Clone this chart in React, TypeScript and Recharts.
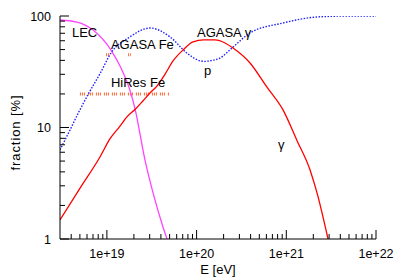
import React from 'react';
import { LineChart, Line, XAxis, YAxis, ReferenceDot } from 'recharts';

// ---- data ----
// gamma fraction (red, solid)
const gammaE = [3e18, 5e18, 8.4e18, 1.08e19, 1.4e19, 1.68e19, 2.07e19, 2.5e19, 3.02e19, 3.61e19, 4.44e19, 5.46e19, 7.05e19, 9.12e19, 1.2e20, 1.6e20, 2.1e20, 2.55e20, 3.94e20, 6.09e20, 9.19e20, 1.31e21, 1.84e21, 2.2e21, 2.92e21];
const gammaF = [1.48, 2.85, 5.47, 7.9, 10.3, 12.5, 14.6, 17.2, 20.4, 23.5, 30, 39.5, 49.5, 58.5, 61, 61, 57, 51.6, 37.9, 23, 14.4, 7.7, 4.16, 2.59, 1.0];

// proton fraction (blue, dotted)
const protonE = [3e18, 3.88e18, 5e18, 6.3e18, 8.4e18, 1.11e19, 1.81e19, 3.02e19, 5.05e19, 7.81e19, 1.09e20, 1.24e20, 1.41e20, 1.82e20, 2.55e20, 3.94e20, 9.19e20, 2.2e21, 5.13e21, 1e22];
const protonF = [6.3, 9.5, 14.4, 20.4, 30.5, 46.5, 65, 78, 65, 46.5, 39.7, 39.2, 39.7, 42, 52.7, 70.5, 86.5, 98, 100, 100];

// LEC (magenta)
const lecE = [3e18, 4.64e18, 7.0e18, 1.11e19, 1.4e19, 1.86e19, 2.07e19, 2.66e19, 3.27e19, 4.22e19, 4.68e19];
const lecF = [92.1, 88.3, 74.8, 49.5, 35.6, 20.0, 14.4, 5.1, 2.59, 1.28, 1.0];

// AGASA Fe limit (orange)
const agasaFeE = [9.8e18, 1.85e19];
const agasaFeF = [45, 45];

// HiRes Fe limit (orange)
const hiresFeE = [5e18, 5e19];
const hiresFeF = [20, 20];

// ticks
const xMajorTicks = [1e19, 1e20, 1e21, 1e22];
const xMajorLabels = ['1e+19', '1e+20', '1e+21', '1e+22'];
const xMinorTicks = [
  4e18, 5e18, 6e18, 7e18, 8e18, 9e18,
  2e19, 3e19, 4e19, 5e19, 6e19, 7e19, 8e19, 9e19,
  2e20, 3e20, 4e20, 5e20, 6e20, 7e20, 8e20, 9e20,
  2e21, 3e21, 4e21, 5e21, 6e21, 7e21, 8e21, 9e21,
];
const yMajorTicks = [1, 10, 100];
const yMajorLabels = ['1', '10', '100'];
const yMinorTicks = [2, 3, 4, 5, 6, 7, 8, 9, 20, 30, 40, 50, 60, 70, 80, 90];

// in-plot annotations
const noteText = ['LEC', 'AGASA Fe', 'HiRes Fe', 'AGASA \u03b3', 'p', '\u03b3'];
const noteE = [4.08e18, 1.11e19, 1.11e19, 1.01e20, 1.21e20, 8.07e20];
const noteF = [64.9, 50.6, 23.1, 64.9, 29.6, 6.4];

const toPoints = (E: number[], F: number[]) => E.map((e, i) => ({ E: e, f: F[i] }));

const xAllTicks = [...xMinorTicks, ...xMajorTicks].sort((a, b) => a - b);
const yAllTicks = [...yMinorTicks, ...yMajorTicks].sort((a, b) => a - b);

const FONT = '"Liberation Sans", Arial, Helvetica, sans-serif';
const MAJ = 9;
const MIN = 5;

const BottomTick = (props: any) => {
  const { x, y, payload } = props;
  const idx = xMajorTicks.indexOf(payload.value);
  const major = idx >= 0;
  return (
    <g>
      <line x1={x} x2={x} y1={y} y2={y - (major ? MAJ : MIN)} stroke="#000" strokeWidth={1} />
      {major && (
        <text x={x} y={y + 19} textAnchor="middle" fontFamily={FONT} fontSize={12.5} fill="#000">
          {xMajorLabels[idx]}
        </text>
      )}
    </g>
  );
};

const TopTick = (props: any) => {
  const { x, y, payload } = props;
  const major = xMajorTicks.indexOf(payload.value) >= 0;
  return <line x1={x} x2={x} y1={y} y2={y + (major ? MAJ : MIN)} stroke="#000" strokeWidth={1} />;
};

const LeftTick = (props: any) => {
  const { x, y, payload } = props;
  const idx = yMajorTicks.indexOf(payload.value);
  const major = idx >= 0;
  return (
    <g>
      <line x1={x} x2={x + (major ? MAJ : MIN)} y1={y} y2={y} stroke="#000" strokeWidth={1} />
      {major && (
        <text x={x - 9} y={y + 4.5} textAnchor="end" fontFamily={FONT} fontSize={12.5} fill="#000">
          {yMajorLabels[idx]}
        </text>
      )}
    </g>
  );
};

const RightTick = (props: any) => {
  const { x, y, payload } = props;
  const major = yMajorTicks.indexOf(payload.value) >= 0;
  return <line x1={x} x2={x - (major ? MAJ : MIN)} y1={y} y2={y} stroke="#000" strokeWidth={1} />;
};

const XLabel = (props: any) => {
  const vb = props.viewBox || {};
  const cx = vb.x + vb.width / 2;
  return (
    <text x={cx} y={vb.y + 35} textAnchor="middle" fontFamily={FONT} fontSize={13} fill="#000">
      E [eV]
    </text>
  );
};

const YLabel = (props: any) => {
  const vb = props.viewBox || {};
  const cx = 15;
  const cy = vb.y + vb.height / 2 + 5;
  return (
    <text
      x={cx}
      y={cy}
      transform={`rotate(-90 ${cx} ${cy})`}
      textAnchor="middle"
      dominantBaseline="central"
      fontFamily={FONT}
      fontSize={13}
      letterSpacing={0.9}
      fill="#000"
    >
      fraction [%]
    </text>
  );
};

const axisCommon = {
  type: 'number' as const,
  scale: 'log' as const,
  allowDataOverflow: true,
  interval: 0 as const,
  tickSize: 0,
  tickMargin: 0,
  tickLine: false,
  axisLine: { stroke: '#000', strokeWidth: 1 },
};

export default function App() {
  return (
    <div style={{ position: 'absolute', left: 0, top: 0, width: 399, height: 279, background: '#fff' }}>
      <LineChart width={399} height={279} margin={{ top: 16, right: 23, bottom: 0, left: 0 }}>
        <XAxis
          {...axisCommon}
          xAxisId="top"
          orientation="top"
          dataKey="E"
          domain={[3e18, 1e22]}
          ticks={xAllTicks}
          height={0}
          tick={TopTick}
        />
        <XAxis
          {...axisCommon}
          xAxisId="main"
          orientation="bottom"
          dataKey="E"
          domain={[3e18, 1e22]}
          ticks={xAllTicks}
          height={40}
          tick={BottomTick}
          label={<XLabel />}
        />
        <YAxis
          {...axisCommon}
          yAxisId="main"
          orientation="left"
          domain={[1, 100]}
          ticks={yAllTicks}
          width={60}
          tick={LeftTick}
          label={<YLabel />}
        />
        <YAxis
          {...axisCommon}
          yAxisId="right"
          orientation="right"
          domain={[1, 100]}
          ticks={yAllTicks}
          width={0}
          tick={RightTick}
        />
        <Line
          xAxisId="main"
          yAxisId="main"
          data={toPoints(hiresFeE, hiresFeF)}
          dataKey="f"
          type="linear"
          stroke="#ff6633"
          strokeWidth={3}
          strokeDasharray="1 1 1 1 1 3"
          dot={false}
          isAnimationActive={false}
        />
        <Line
          xAxisId="main"
          yAxisId="main"
          data={toPoints(agasaFeE, agasaFeF)}
          dataKey="f"
          type="linear"
          stroke="#ff6633"
          strokeWidth={3}
          strokeDasharray="1 1 1 19 1 1 1 30"
          dot={false}
          isAnimationActive={false}
        />
        <Line
          xAxisId="main"
          yAxisId="main"
          data={toPoints(lecE, lecF)}
          dataKey="f"
          type="monotone"
          stroke="#ff44ff"
          strokeWidth={1.3}
          dot={false}
          isAnimationActive={false}
        />
        <Line
          xAxisId="main"
          yAxisId="main"
          data={toPoints(protonE, protonF)}
          dataKey="f"
          type="monotone"
          stroke="#2020ff"
          strokeWidth={1.4}
          strokeDasharray="1.5 1.5"
          dot={false}
          isAnimationActive={false}
        />
        <Line
          xAxisId="main"
          yAxisId="main"
          data={toPoints(gammaE, gammaF)}
          dataKey="f"
          type="monotone"
          stroke="#ff0000"
          strokeWidth={1.3}
          dot={false}
          isAnimationActive={false}
        />
        {noteText.map((t, i) => (
          <ReferenceDot
            key={t}
            xAxisId="main"
            yAxisId="main"
            x={noteE[i]}
            y={noteF[i]}
            r={0}
            ifOverflow="visible"
            shape={(p: any) => (
              <text x={p.cx} y={p.cy} textAnchor="start" fontFamily={FONT} fontSize={13} fill="#000">
                {t}
              </text>
            )}
          />
        ))}
      </LineChart>
    </div>
  );
}
